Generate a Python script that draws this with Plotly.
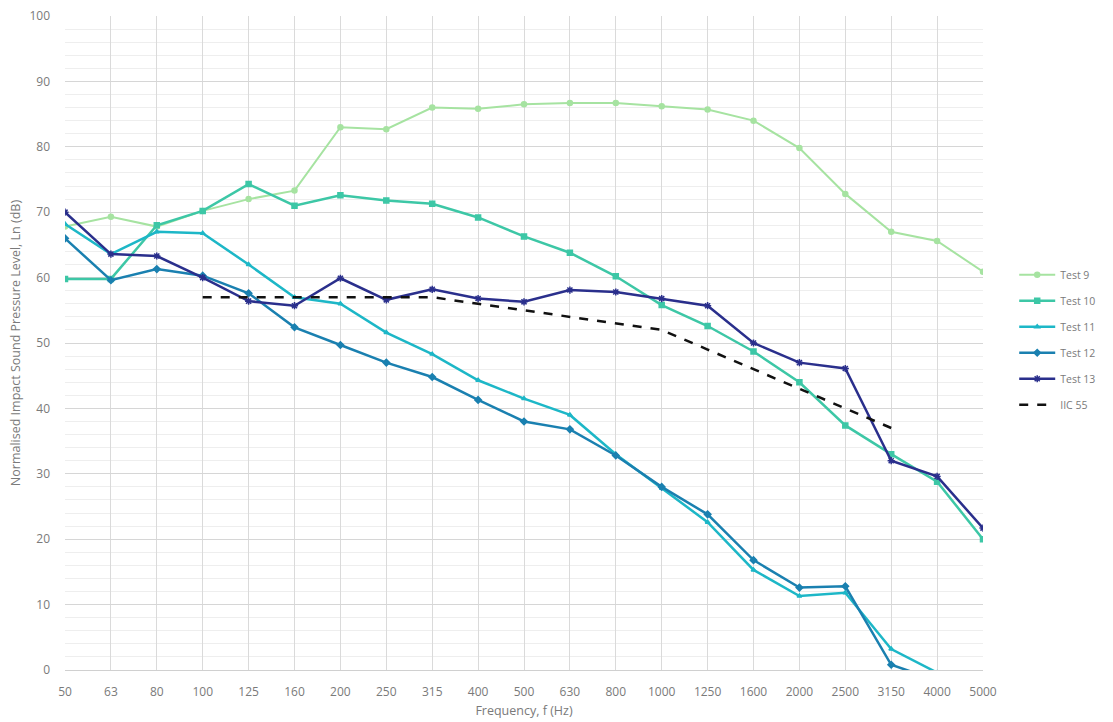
import plotly.graph_objects as go

freqs = ["50", "63", "80", "100", "125", "160", "200", "250", "315", "400", "500",
         "630", "800", "1000", "1250", "1600", "2000", "2500", "3150", "4000", "5000"]

test9 = [67.8, 69.3, 67.8, 70.2, 72.0, 73.3, 83.0, 82.7, 86.0, 85.8, 86.5,
         86.7, 86.7, 86.2, 85.7, 84.0, 79.8, 72.8, 67.0, 65.6, 60.9]
test10 = [59.8, 59.8, 68.0, 70.2, 74.3, 71.0, 72.6, 71.8, 71.3, 69.2, 66.3,
          63.8, 60.2, 55.8, 52.6, 48.7, 44.0, 37.4, 33.0, 28.8, 20.0]
test11 = [68.2, 63.6, 67.0, 66.8, 62.0, 57.0, 56.0, 51.6, 48.3, 44.3, 41.5,
          39.0, 33.0, 27.8, 22.6, 15.3, 11.3, 11.8, 3.2, -0.4, None]
test12 = [66.0, 59.6, 61.3, 60.3, 57.6, 52.4, 49.7, 47.0, 44.8, 41.3, 38.0,
          36.8, 32.8, 28.0, 23.8, 16.8, 12.6, 12.8, 0.8, -1.6, None]
test13 = [70.0, 63.6, 63.3, 60.0, 56.4, 55.7, 59.9, 56.6, 58.2, 56.8, 56.3,
          58.1, 57.8, 56.8, 55.7, 50.0, 47.0, 46.1, 32.0, 29.6, 21.7]
iic55 = [None, None, None, 57, 57, 57, 57, 57, 57, 56, 55,
         54, 53, 52, 49, 46, 43, 40, 37, None, None]

y_ticks = [0, 10, 20, 30, 40, 50, 60, 70, 80, 90, 100]

series = [
    ("Test 9", test9, "#a6e3a1", "circle", 5, 2),
    ("Test 10", test10, "#3dc7a6", "square", 5, 2.5),
    ("Test 11", test11, "#1db7c7", "triangle-up", 4, 2.5),
    ("Test 12", test12, "#1a80b0", "diamond", 5, 2.5),
    ("Test 13", test13, "#2a2f8c", "asterisk-open", 6, 2.5),
]

TXT = "#7a7a7a"
FONT = "Open Sans, Noto Sans, sans-serif"

fig = go.Figure()
for name, vals, col, sym, ms, lw in series:
    fig.add_trace(go.Scatter(
        x=freqs, y=vals, name=name, mode="lines+markers", legendgroup=name,
        line=dict(color=col, width=lw),
        marker=dict(symbol=sym, size=ms, color=col, line=dict(color=col, width=1.5)),
        connectgaps=False,
    ))
fig.add_trace(go.Scatter(
    x=freqs, y=iic55, name="IIC 55", mode="lines", legendgroup="IIC 55",
    line=dict(color="#111111", width=2.5, dash="dash"),
))

fig.update_layout(
    width=1113, height=722,
    margin=dict(l=65, r=130, t=16, b=52),
    paper_bgcolor="white", plot_bgcolor="white",
    font=dict(family=FONT, size=12, color=TXT),
    showlegend=True,
    legend=dict(x=1.034, y=0.505, xanchor="left", yanchor="middle",
                font=dict(size=10.5, color=TXT), tracegroupgap=7,
                itemwidth=36),
)
fig.update_xaxes(
    type="category", categoryorder="array", categoryarray=freqs,
    range=[0, 20], showgrid=True, gridcolor="#dadada", gridwidth=1,
    showline=True, linecolor="#d0d0d0", ticks="", zeroline=False, automargin=False,
    ticklabelstandoff=11,
    title=dict(text="Frequency, f (Hz)", font=dict(size=12.5, color=TXT), standoff=6),
    tickfont=dict(size=12, color=TXT),
)
fig.update_yaxes(
    range=[0, 100], tickvals=y_ticks, showgrid=True, gridcolor="#d6d6d6", gridwidth=1,
    minor=dict(dtick=2, showgrid=True, gridcolor="#eeeeee", gridwidth=1),
    zeroline=False, showline=False, ticks="", automargin=False,
    ticklabelstandoff=14, ticklabeloverflow="allow",
    title=dict(text="Normalised Impact Sound Pressure Level, Ln (dB)",
               font=dict(size=12.5, color=TXT), standoff=6),
    tickfont=dict(size=12, color=TXT),
)

fig.write_html("out.html", config={"displayModeBar": False},
               post_script="document.body.style.margin='0';")
